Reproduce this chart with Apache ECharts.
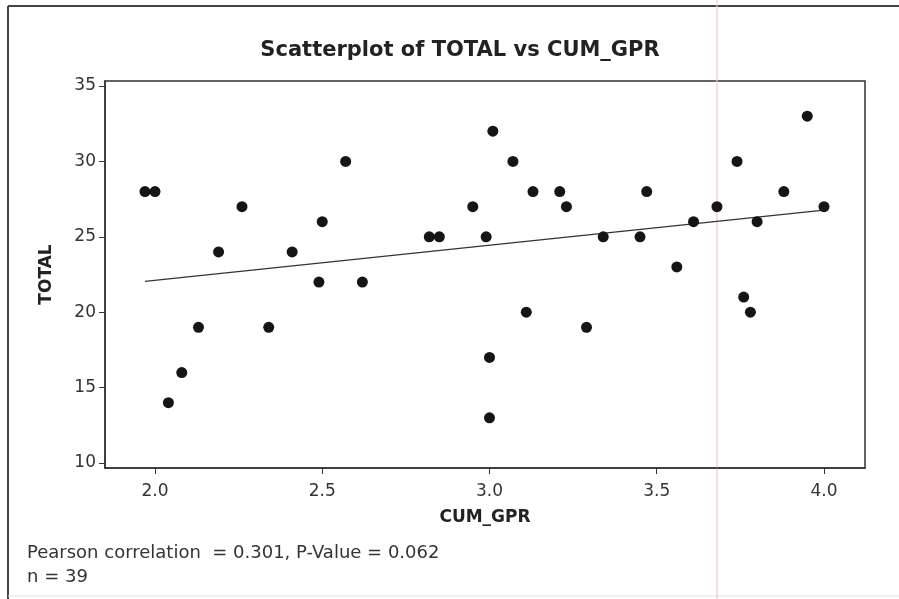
<!DOCTYPE html>
<html>
<head>
<meta charset="utf-8">
<script src="https://cdn.jsdelivr.net/npm/echarts@6/dist/echarts.min.js"></script>
<style>
  html, body { margin: 0; padding: 0; background: #fff; }
  #chart { width: 899px; height: 599px; }
</style>
</head>
<body>
<div id="chart"></div>
<script>
// Cumulative GPA (CUM_GPR) and TOTAL score for each of the 39 students
const cumGpr = [1.97, 2.00, 2.04, 2.08, 2.13, 2.34, 2.19, 2.26, 2.41, 2.49,
                2.50, 2.57, 2.62, 2.82, 2.85, 2.95, 2.99, 3.01, 3.07, 3.13,
                3.21, 3.23, 3.34, 3.45, 3.47, 3.56, 3.61, 3.68, 3.74, 3.76,
                3.78, 3.80, 3.88, 3.95, 4.00, 3.00, 3.00, 3.11, 3.29];
const total  = [28, 28, 14, 16, 19, 19, 24, 27, 24, 22,
                26, 30, 22, 25, 25, 27, 25, 32, 30, 28,
                28, 27, 25, 25, 28, 23, 26, 27, 30, 21,
                20, 26, 28, 33, 27, 17, 13, 20, 19];
const xTicks = [2.0, 2.5, 3.0, 3.5, 4.0];
const yTicks = [10, 15, 20, 25, 30, 35];

const points = cumGpr.map((x, i) => [x, total[i]]);

// Least-squares fit of TOTAL on CUM_GPR
const n = cumGpr.length;
const mx = cumGpr.reduce((a, b) => a + b, 0) / n;
const my = total.reduce((a, b) => a + b, 0) / n;
let sxy = 0, sxx = 0;
for (let i = 0; i < n; i++) {
  sxy += (cumGpr[i] - mx) * (total[i] - my);
  sxx += (cumGpr[i] - mx) ** 2;
}
const slope = sxy / sxx;
const intercept = my - slope * mx;
const xLo = Math.min(...cumGpr), xHi = Math.max(...cumGpr);
const fitLine = [[xLo, intercept + slope * xLo], [xHi, intercept + slope * xHi]];

const FONT = 'DejaVu Sans';
const chart = echarts.init(document.getElementById('chart'), null, { renderer: 'canvas' });
chart.setOption({
  animation: false,
  backgroundColor: '#fff',
  title: {
    text: 'Scatterplot of TOTAL vs CUM_GPR',
    left: 455, top: 35, textAlign: 'center',
    textStyle: { fontFamily: FONT, fontSize: 21, fontWeight: 'bold', color: '#222' }
  },
  grid: {
    left: 105, right: 34, top: 81, bottom: 131,
    show: true, borderColor: '#333', borderWidth: 1.5, backgroundColor: 'transparent'
  },
  xAxis: {
    type: 'value', min: 1.8505, max: 4.1226,
    name: 'CUM_GPR', nameLocation: 'middle', nameGap: 41,
    nameTextStyle: { fontFamily: FONT, fontSize: 17, fontWeight: 'bold', color: '#222' },
    axisLine: { show: true, onZero: false, lineStyle: { color: '#333', width: 1.5 } },
    axisTick: { show: true, inside: false, length: 6, customValues: xTicks, lineStyle: { color: '#333' } },
    axisLabel: {
      customValues: xTicks, margin: 15, formatter: v => v.toFixed(1),
      fontFamily: FONT, fontSize: 17, color: '#333'
    },
    splitLine: { show: false }
  },
  yAxis: {
    type: 'value', min: 9.67, max: 35.33,
    name: 'TOTAL', nameLocation: 'middle', nameGap: 50, nameRotate: 90,
    nameTextStyle: { fontFamily: FONT, fontSize: 17, fontWeight: 'bold', color: '#222' },
    axisLine: { show: true, onZero: false, lineStyle: { color: '#333', width: 1.5 } },
    axisTick: { show: true, inside: false, length: 6, customValues: yTicks, lineStyle: { color: '#333' } },
    axisLabel: {
      customValues: yTicks, margin: 9,
      fontFamily: FONT, fontSize: 17, color: '#333'
    },
    splitLine: { show: false }
  },
  series: [
    {
      type: 'line', data: fitLine, symbol: 'none', silent: true,
      lineStyle: { color: '#333', width: 1.2 }, z: 2
    },
    {
      type: 'scatter', data: points, symbol: 'circle', symbolSize: 11,
      itemStyle: { color: '#151515', opacity: 1 }, z: 3
    }
  ],
  graphic: [
    // page frame
    { type: 'line', shape: { x1: 8, y1: 6, x2: 899, y2: 6 }, style: { stroke: '#444', lineWidth: 2 } },
    { type: 'line', shape: { x1: 8, y1: 6, x2: 8, y2: 599 }, style: { stroke: '#444', lineWidth: 2 } },
    { type: 'line', shape: { x1: 8, y1: 596, x2: 899, y2: 596 }, style: { stroke: '#ddd', lineWidth: 1 } },
    // faint pink rule across the page
    { type: 'line', shape: { x1: 717, y1: 0, x2: 717, y2: 599 }, style: { stroke: '#f2c6df', lineWidth: 1.2 } },
    {
      type: 'text', left: 27, top: 544,
      style: { text: 'Pearson correlation  = 0.301, P-Value = 0.062', fontFamily: FONT, fontSize: 18, fill: '#333' }
    },
    {
      type: 'text', left: 27, top: 568,
      style: { text: 'n = 39', fontFamily: FONT, fontSize: 18, fill: '#333' }
    }
  ]
});
</script>
</body>
</html>
